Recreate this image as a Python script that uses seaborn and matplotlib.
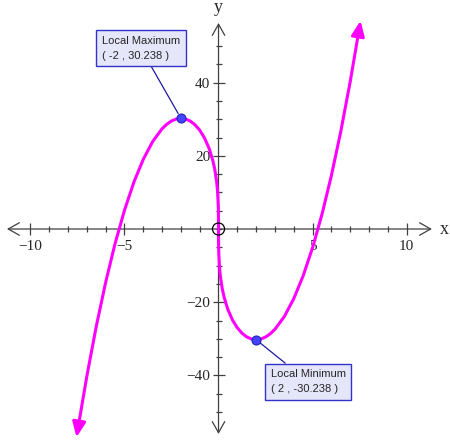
import numpy as np
import matplotlib
matplotlib.use('Agg')
import matplotlib.pyplot as plt
import seaborn as sns

# curve points
x_vals = [-7.55, -7.45, -7.0, -6.5, -6.0, -5.5, -5.0, -4.5, -4.0, -3.5, -3.0,
          -2.75, -2.5, -2.25, -2.0, -1.75, -1.5, -1.25, -1.0, -0.75, -0.5,
          -0.3, -0.2, -0.1, -0.05, -0.01, -0.001, 0.0, 0.001, 0.01, 0.05, 0.1,
          0.2, 0.3, 0.5, 0.75, 1.0, 1.25, 1.5, 1.75, 2.0, 2.25, 2.5, 2.75,
          3.0, 3.5, 4.0, 4.5, 5.0, 5.5, 6.0, 6.5, 7.0, 7.45, 7.55]
y_vals = [-56.89, -53.72, -40.17, -26.59, -14.54, -3.97, 5.13, 12.80, 19.05,
          23.91, 27.40, 28.63, 29.52, 30.06, 30.24, 30.05, 29.48, 28.48, 27.00,
          24.93, 22.03, 18.68, 16.35, 12.99, 10.31, 6.03, 2.80, 0.0, -2.80,
          -6.03, -10.31, -12.99, -16.35, -18.68, -22.03, -24.93, -27.00, -28.48,
          -29.48, -30.05, -30.24, -30.06, -29.52, -28.63, -27.40, -23.91, -19.05,
          -12.80, -5.13, 3.97, 14.54, 26.59, 40.17, 53.72, 56.89]

ext_x = [-2, 2]
ext_y = [30.238, -30.238]
ext_names = ['Local Maximum', 'Local Minimum']

hole_x = [0]
hole_y = [0]

x_major = [-10, -5, 5, 10]
x_minor = list(range(-10, 11))
y_major = [-40, -20, 20, 40]
y_minor = list(range(-50, 51, 5))

sns.set_style('white')
plt.rcParams['font.family'] = ['Liberation Serif', 'DejaVu Serif']

fig = plt.figure(figsize=(4.5, 4.43), dpi=100)
ax = fig.add_axes([0, 0, 1, 1])
ax.set_xlim(-11.62, 12.31)
ax.set_ylim(-58.47, 62.57)

# axes through the origin
for side in ['top', 'right', 'bottom', 'left']:
    ax.spines[side].set_visible(False)
ax.spines['bottom'].set_position('zero')
ax.spines['left'].set_position('zero')
ax.xaxis.set_ticks_position('bottom')
ax.yaxis.set_ticks_position('left')
ax.set_xticks(x_major)
ax.set_xticks(x_minor, minor=True)
ax.set_yticks(y_major)
ax.set_yticks(y_minor, minor=True)
ax.tick_params(which='major', direction='inout', length=8, width=0.9,
               color='#404040', labelsize=11, pad=4)
ax.tick_params(which='minor', direction='inout', length=4.5, width=0.9,
               color='#404040')
ax.tick_params(axis='y', which='major', pad=2)

axis_col = '#404040'
ax.annotate('', xy=(11.35, 0), xytext=(-11.25, 0),
            arrowprops=dict(arrowstyle='<->,head_length=0.8,head_width=0.45',
                            color=axis_col, lw=0.9, mutation_scale=10,
                            shrinkA=0, shrinkB=0))
ax.annotate('', xy=(0, 56.3), xytext=(0, -56.0),
            arrowprops=dict(arrowstyle='<->,head_length=0.8,head_width=0.45',
                            color=axis_col, lw=0.9, mutation_scale=10,
                            shrinkA=0, shrinkB=0))
ax.text(11.75, 0, 'x', fontsize=13, ha='left', va='center')
ax.text(0, 58.2, 'y', fontsize=13, ha='center', va='bottom')

# the curve
curve_col = '#FF00FF'
sns.lineplot(x=x_vals[1:-1], y=y_vals[1:-1], sort=False, estimator=None,
             color=curve_col, linewidth=2.2, ax=ax, zorder=3)
for a, b in [(1, 0), (-2, -1)]:
    ax.annotate('', xy=(x_vals[b], y_vals[b]), xytext=(x_vals[a], y_vals[a]),
                arrowprops=dict(arrowstyle='-|>,head_length=0.75,head_width=0.33',
                                color=curve_col, lw=2.2, mutation_scale=12,
                                shrinkA=0, shrinkB=0), zorder=3)

# open circle at origin
sns.scatterplot(x=hole_x, y=hole_y, s=75, facecolor='none', edgecolor='black',
                linewidth=0.9, ax=ax, zorder=4)

# extrema
sns.scatterplot(x=ext_x, y=ext_y, s=42, color='#4444FF', edgecolor='#2222BB',
                linewidth=0.8, ax=ax, zorder=5)

offsets = [(-28.8, 50.4), (37.4, -30.2)]
for xe, ye, name, off in zip(ext_x, ext_y, ext_names, offsets):
    ax.annotate(f'{name}\n( {xe:g} , {ye:.3f} )', xy=(xe, ye), xytext=off,
                textcoords='offset points', ha='center', va='center',
                multialignment='left', fontsize=8, linespacing=1.6,
                family=['Liberation Sans', 'DejaVu Sans'],
                bbox=dict(boxstyle='square,pad=0.5', fc='#E6E6FA',
                          ec='#3333CC', lw=1),
                arrowprops=dict(arrowstyle='-', color='#1A1AA0', lw=0.9,
                                shrinkA=0, shrinkB=4),
                zorder=6)

ax.set_xlabel('')
ax.set_ylabel('')
fig.savefig('out.png', dpi=100)
